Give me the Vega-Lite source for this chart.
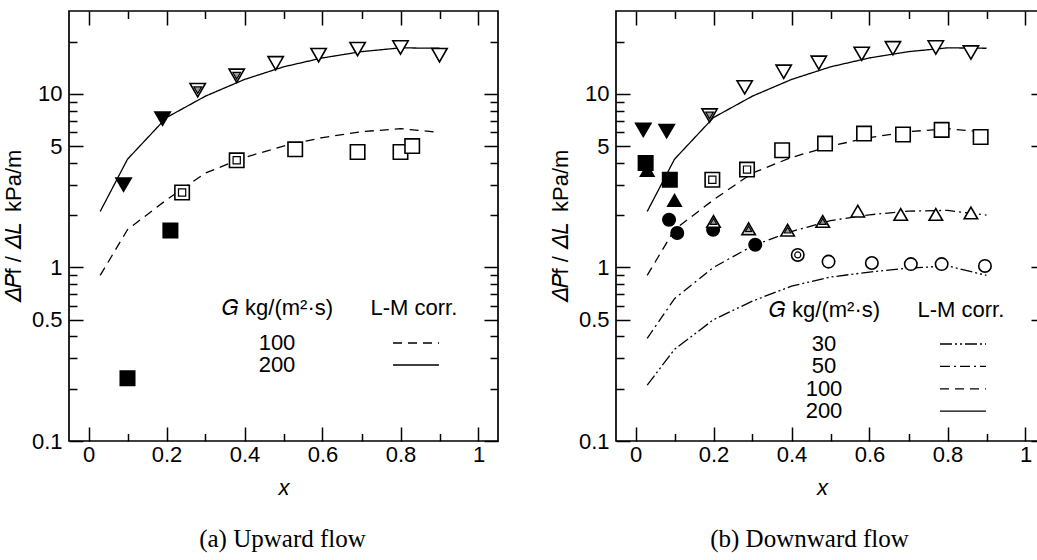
{
  "$schema": "https://vega.github.io/schema/vega-lite/v6.json",
  "background": "white",
  "autosize": {"type": "pad"},
  "padding": {"left": 1, "top": 9, "right": -10, "bottom": 0},
  "config": {
    "view": {"stroke": "black", "strokeWidth": 1.7},
    "axis": {"domain": false, "grid": false, "tickColor": "black", "tickWidth": 1.5, "labelFont": "Liberation Sans", "labelFontSize": 22, "labelColor": "black", "titleFont": "Liberation Sans", "titleFontSize": 22, "titleFontWeight": "normal", "titleColor": "black", "labelFlush": false, "labelOverlap": false, "labelBound": false},
    "legend": {"titleFont": "Liberation Sans", "labelFont": "Liberation Sans"}
  },
  "datasets": {
    "lm": [
      {"G": 200, "x": 0.03, "y": 2.1}, {"G": 200, "x": 0.1, "y": 4.2}, {"G": 200, "x": 0.2, "y": 7.3}, {"G": 200, "x": 0.3, "y": 9.7}, {"G": 200, "x": 0.4, "y": 12.1}, {"G": 200, "x": 0.5, "y": 14.3}, {"G": 200, "x": 0.6, "y": 16.1}, {"G": 200, "x": 0.7, "y": 17.5}, {"G": 200, "x": 0.8, "y": 18.4}, {"G": 200, "x": 0.9, "y": 18.3},
      {"G": 100, "x": 0.03, "y": 0.9}, {"G": 100, "x": 0.1, "y": 1.65}, {"G": 100, "x": 0.2, "y": 2.45}, {"G": 100, "x": 0.3, "y": 3.5}, {"G": 100, "x": 0.4, "y": 4.3}, {"G": 100, "x": 0.5, "y": 5.0}, {"G": 100, "x": 0.6, "y": 5.6}, {"G": 100, "x": 0.7, "y": 6.05}, {"G": 100, "x": 0.8, "y": 6.3}, {"G": 100, "x": 0.9, "y": 6.0},
      {"G": 50, "x": 0.03, "y": 0.39}, {"G": 50, "x": 0.1, "y": 0.66}, {"G": 50, "x": 0.2, "y": 1.0}, {"G": 50, "x": 0.3, "y": 1.33}, {"G": 50, "x": 0.4, "y": 1.61}, {"G": 50, "x": 0.5, "y": 1.86}, {"G": 50, "x": 0.6, "y": 2.01}, {"G": 50, "x": 0.7, "y": 2.11}, {"G": 50, "x": 0.8, "y": 2.13}, {"G": 50, "x": 0.9, "y": 2.0},
      {"G": 30, "x": 0.03, "y": 0.21}, {"G": 30, "x": 0.1, "y": 0.337}, {"G": 30, "x": 0.2, "y": 0.5}, {"G": 30, "x": 0.3, "y": 0.64}, {"G": 30, "x": 0.4, "y": 0.78}, {"G": 30, "x": 0.5, "y": 0.88}, {"G": 30, "x": 0.6, "y": 0.94}, {"G": 30, "x": 0.7, "y": 0.99}, {"G": 30, "x": 0.8, "y": 1.02}, {"G": 30, "x": 0.9, "y": 0.9}
    ],
    "pa": [
      {"g": 100, "t": "f", "x": 0.10, "y": 0.23}, {"g": 100, "t": "f", "x": 0.21, "y": 1.63}, {"g": 100, "t": "d", "x": 0.24, "y": 2.7}, {"g": 100, "t": "d", "x": 0.38, "y": 4.14}, {"g": 100, "t": "o", "x": 0.53, "y": 4.79}, {"g": 100, "t": "o", "x": 0.69, "y": 4.62}, {"g": 100, "t": "o", "x": 0.80, "y": 4.62}, {"g": 100, "t": "o", "x": 0.83, "y": 5.0},
      {"g": 200, "t": "f", "x": 0.09, "y": 3.0}, {"g": 200, "t": "f", "x": 0.19, "y": 7.2}, {"g": 200, "t": "d", "x": 0.28, "y": 10.5}, {"g": 200, "t": "d", "x": 0.38, "y": 12.7}, {"g": 200, "t": "o", "x": 0.48, "y": 15.0}, {"g": 200, "t": "o", "x": 0.59, "y": 16.7}, {"g": 200, "t": "o", "x": 0.69, "y": 18.1}, {"g": 200, "t": "o", "x": 0.80, "y": 18.5}, {"g": 200, "t": "o", "x": 0.90, "y": 16.7}
    ],
    "pb": [
      {"g": 30, "t": "f", "x": 0.086, "y": 1.88}, {"g": 30, "t": "f", "x": 0.107, "y": 1.58}, {"g": 30, "t": "f", "x": 0.199, "y": 1.65}, {"g": 30, "t": "f", "x": 0.307, "y": 1.35}, {"g": 30, "t": "d", "x": 0.416, "y": 1.18}, {"g": 30, "t": "o", "x": 0.495, "y": 1.08}, {"g": 30, "t": "o", "x": 0.606, "y": 1.06}, {"g": 30, "t": "o", "x": 0.706, "y": 1.045}, {"g": 30, "t": "o", "x": 0.785, "y": 1.045}, {"g": 30, "t": "o", "x": 0.896, "y": 1.02},
      {"g": 50, "t": "f", "x": 0.03, "y": 3.62}, {"g": 50, "t": "f", "x": 0.10, "y": 2.43}, {"g": 50, "t": "d", "x": 0.20, "y": 1.84}, {"g": 50, "t": "d", "x": 0.29, "y": 1.67}, {"g": 50, "t": "d", "x": 0.39, "y": 1.64}, {"g": 50, "t": "d", "x": 0.48, "y": 1.84}, {"g": 50, "t": "o", "x": 0.57, "y": 2.11}, {"g": 50, "t": "o", "x": 0.68, "y": 2.02}, {"g": 50, "t": "o", "x": 0.77, "y": 2.02}, {"g": 50, "t": "o", "x": 0.86, "y": 2.06},
      {"g": 100, "t": "f", "x": 0.026, "y": 4.0}, {"g": 100, "t": "f", "x": 0.088, "y": 3.2}, {"g": 100, "t": "d", "x": 0.197, "y": 3.2}, {"g": 100, "t": "d", "x": 0.286, "y": 3.66}, {"g": 100, "t": "o", "x": 0.376, "y": 4.73}, {"g": 100, "t": "o", "x": 0.486, "y": 5.17}, {"g": 100, "t": "o", "x": 0.586, "y": 5.9}, {"g": 100, "t": "o", "x": 0.686, "y": 5.83}, {"g": 100, "t": "o", "x": 0.785, "y": 6.2}, {"g": 100, "t": "o", "x": 0.885, "y": 5.64},
      {"g": 200, "t": "f", "x": 0.02, "y": 6.2}, {"g": 200, "t": "f", "x": 0.08, "y": 6.1}, {"g": 200, "t": "d", "x": 0.19, "y": 7.5}, {"g": 200, "t": "o", "x": 0.28, "y": 10.9}, {"g": 200, "t": "o", "x": 0.38, "y": 13.4}, {"g": 200, "t": "o", "x": 0.47, "y": 15.1}, {"g": 200, "t": "o", "x": 0.58, "y": 17.0}, {"g": 200, "t": "o", "x": 0.66, "y": 18.3}, {"g": 200, "t": "o", "x": 0.77, "y": 18.5}, {"g": 200, "t": "o", "x": 0.86, "y": 17.3}
    ]
  },
  "hconcat": [
    {
      "width": 429, "height": 430,
      "title": {"text": "(a) Upward flow", "orient": "bottom", "frame": "group", "anchor": "middle", "font": "Liberation Serif", "fontSize": 25, "fontWeight": "normal", "color": "black", "offset": 28, "dx": -1},
      "layer": [
        {
          "data": {"name": "lm"},
          "transform": [{"filter": "datum.G >= 100"}],
          "mark": {"type": "line", "color": "black", "strokeWidth": 1.3},
          "encoding": {
            "x": {"field": "x", "type": "quantitative", "scale": {"domain": [-0.05, 1.05], "nice": false, "zero": false},
              "axis": {"orient": "bottom", "values": [0, 0.1, 0.2, 0.3, 0.4, 0.5, 0.6, 0.7, 0.8, 0.9, 1], "labelExpr": "indexof([0,0.2,0.4,0.6,0.8,1], datum.value) >= 0 ? format(datum.value, '~g') : ''", "tickSize": {"condition": {"test": "indexof([0,0.2,0.4,0.6,0.8,1], datum.value) >= 0", "value": -14}, "value": -7.5}, "labelPadding": 17, "title": "x", "titleFontStyle": "italic", "titlePadding": 6}},
            "y": {"field": "y", "type": "quantitative", "scale": {"type": "log", "domain": [0.1, 30], "nice": false},
              "axis": {"orient": "left", "values": [0.1, 0.2, 0.3, 0.4, 0.5, 0.6, 0.7, 0.8, 0.9, 1, 2, 3, 4, 5, 6, 7, 8, 9, 10, 20], "labelExpr": "datum.value == 0.1 ? '0.1' : datum.value == 0.5 ? '0.5' : datum.value == 1 ? '1' : datum.value == 5 ? '5' : datum.value == 10 ? '10' : ''", "tickSize": {"condition": {"test": "indexof([0.1,0.5,1,5,10], datum.value) >= 0", "value": -14}, "value": -8}, "labelPadding": 21, "title": "𝛥𝑃f / 𝛥𝐿\u2002kPa/m", "titlePadding": 6}},
            "strokeDash": {"field": "G", "type": "nominal", "scale": {"domain": [100, 200], "range": [[9, 6], [1, 0]]},
              "legend": {"orient": "none", "legendX": 153, "legendY": 287, "title": "𝐺 kg/(m²·s)\u2003\u2002\u2009L-M corr.", "titleLimit": 600, "titleFontSize": 22, "titleFontWeight": "normal", "titleColor": "black", "titlePadding": 12, "labelFontSize": 22, "labelColor": "black", "labelAlign": "center", "labelOffset": -150, "symbolType": "M-4.6,0H4.6", "symbolSize": 100, "symbolStrokeWidth": 1.3, "symbolStrokeColor": "black", "symbolFillColor": "transparent", "symbolOffset": 183, "rowPadding": 0, "padding": 0}}
          }
        },
        {
          "data": {"name": "pa"},
          "mark": {"type": "point", "filled": true, "stroke": "black", "strokeWidth": 1.6, "opacity": 1},
          "encoding": {
            "x": {"field": "x", "type": "quantitative", "scale": {"domain": [-0.05, 1.05], "nice": false, "zero": false}, "axis": null},
            "y": {"field": "y", "type": "quantitative", "scale": {"type": "log", "domain": [0.1, 30], "nice": false}, "axis": null},
            "shape": {"field": "g", "type": "nominal", "scale": {"domain": [200, 100, 50, 30], "range": ["triangle-down", "square", "triangle-up", "circle"]}, "legend": null},
            "size": {"field": "g", "type": "nominal", "scale": {"domain": [200, 100, 50, 30], "range": [235, 155, 235, 150]}, "legend": null},
            "fill": {"field": "t", "type": "nominal", "scale": {"domain": ["f", "d", "o"], "range": ["black", "white", "white"]}, "legend": null}
          }
        },
        {
          "data": {"name": "pa"},
          "transform": [{"filter": "datum.t == 'd'"}],
          "mark": {"type": "point", "filled": true, "stroke": "black", "strokeWidth": 1.2, "opacity": 1},
          "encoding": {
            "x": {"field": "x", "type": "quantitative", "scale": {"domain": [-0.05, 1.05], "nice": false, "zero": false}, "axis": null},
            "y": {"field": "y", "type": "quantitative", "scale": {"type": "log", "domain": [0.1, 30], "nice": false}, "axis": null},
            "shape": {"field": "g", "type": "nominal", "scale": {"domain": [200, 100, 50, 30], "range": ["triangle-down", "square", "triangle-up", "circle"]}, "legend": null},
            "size": {"field": "g", "type": "nominal", "scale": {"domain": [200, 100, 50, 30], "range": [60, 36, 60, 36]}, "legend": null},
            "fill": {"field": "g", "type": "nominal", "scale": {"domain": [200, 100, 50, 30], "range": ["#999999", "white", "#999999", "white"]}, "legend": null}
          }
        },
        {
          "data": {"name": "pa"},
          "mark": {"type": "point", "opacity": 0},
          "encoding": {
            "x": {"field": "x", "type": "quantitative", "scale": {"domain": [-0.05, 1.05], "nice": false, "zero": false},
              "axis": {"orient": "top", "values": [0, 0.1, 0.2, 0.3, 0.4, 0.5, 0.6, 0.7, 0.8, 0.9, 1], "labels": false, "title": null, "tickSize": {"condition": {"test": "indexof([0,0.2,0.4,0.6,0.8,1], datum.value) >= 0", "value": -14}, "value": -7.5}}},
            "y": {"field": "y", "type": "quantitative", "scale": {"type": "log", "domain": [0.1, 30], "nice": false},
              "axis": {"orient": "right", "values": [0.1, 0.2, 0.3, 0.4, 0.5, 0.6, 0.7, 0.8, 0.9, 1, 2, 3, 4, 5, 6, 7, 8, 9, 10, 20], "labels": false, "title": null, "tickSize": {"condition": {"test": "indexof([0.1,0.5,1,5,10], datum.value) >= 0", "value": -14}, "value": -8}}}
          }
        }
      ],
      "resolve": {"axis": {"x": "independent", "y": "independent"}, "scale": {"size": "independent", "fill": "independent"}}
    },
    {
      "width": 429, "height": 430,
      "title": {"text": "(b) Downward flow", "orient": "bottom", "frame": "group", "anchor": "middle", "font": "Liberation Serif", "fontSize": 25, "fontWeight": "normal", "color": "black", "offset": 28, "dx": -21},
      "layer": [
        {
          "data": {"name": "lm"},
          "mark": {"type": "line", "color": "black", "strokeWidth": 1.3},
          "encoding": {
            "x": {"field": "x", "type": "quantitative", "scale": {"domain": [-0.05, 1.05], "nice": false, "zero": false},
              "axis": {"orient": "bottom", "values": [0, 0.1, 0.2, 0.3, 0.4, 0.5, 0.6, 0.7, 0.8, 0.9, 1], "labelExpr": "indexof([0,0.2,0.4,0.6,0.8,1], datum.value) >= 0 ? format(datum.value, '~g') : ''", "tickSize": {"condition": {"test": "indexof([0,0.2,0.4,0.6,0.8,1], datum.value) >= 0", "value": -14}, "value": -7.5}, "labelPadding": 17, "title": "x", "titleFontStyle": "italic", "titlePadding": 6, "titleX": 206}},
            "y": {"field": "y", "type": "quantitative", "scale": {"type": "log", "domain": [0.1, 30], "nice": false},
              "axis": {"orient": "left", "values": [0.1, 0.2, 0.3, 0.4, 0.5, 0.6, 0.7, 0.8, 0.9, 1, 2, 3, 4, 5, 6, 7, 8, 9, 10, 20], "labelExpr": "datum.value == 0.1 ? '0.1' : datum.value == 0.5 ? '0.5' : datum.value == 1 ? '1' : datum.value == 5 ? '5' : datum.value == 10 ? '10' : ''", "tickSize": {"condition": {"test": "indexof([0.1,0.5,1,5,10], datum.value) >= 0", "value": -14}, "value": -8}, "labelPadding": 21, "title": "𝛥𝑃f / 𝛥𝐿\u2002kPa/m", "titlePadding": 6}},
            "strokeDash": {"field": "G", "type": "nominal", "scale": {"domain": [30, 50, 100, 200], "range": [[12, 3, 2, 3, 2, 3], [10, 4, 2, 4], [9, 6], [1, 0]]},
              "legend": {"orient": "none", "legendX": 153, "legendY": 289, "title": "𝐺 kg/(m²·s)\u2003\u2002\u2009L-M corr.", "titleLimit": 600, "titleFontSize": 22, "titleFontWeight": "normal", "titleColor": "black", "titlePadding": 11, "labelFontSize": 22, "labelColor": "black", "labelAlign": "center", "labelOffset": -150, "symbolType": "M-4.6,0H4.6", "symbolSize": 100, "symbolStrokeWidth": 1.3, "symbolStrokeColor": "black", "symbolFillColor": "transparent", "symbolOffset": 183, "rowPadding": 0.4, "padding": 0}}
          }
        },
        {
          "data": {"name": "pb"},
          "mark": {"type": "point", "filled": true, "stroke": "black", "strokeWidth": 1.6, "opacity": 1},
          "encoding": {
            "x": {"field": "x", "type": "quantitative", "scale": {"domain": [-0.05, 1.05], "nice": false, "zero": false}, "axis": null},
            "y": {"field": "y", "type": "quantitative", "scale": {"type": "log", "domain": [0.1, 30], "nice": false}, "axis": null},
            "shape": {"field": "g", "type": "nominal", "scale": {"domain": [200, 100, 50, 30], "range": ["triangle-down", "square", "triangle-up", "circle"]}, "legend": null},
            "size": {"field": "g", "type": "nominal", "scale": {"domain": [200, 100, 50, 30], "range": [235, 155, 235, 150]}, "legend": null},
            "fill": {"field": "t", "type": "nominal", "scale": {"domain": ["f", "d", "o"], "range": ["black", "white", "white"]}, "legend": null}
          }
        },
        {
          "data": {"name": "pb"},
          "transform": [{"filter": "datum.t == 'd'"}],
          "mark": {"type": "point", "filled": true, "stroke": "black", "strokeWidth": 1.2, "opacity": 1},
          "encoding": {
            "x": {"field": "x", "type": "quantitative", "scale": {"domain": [-0.05, 1.05], "nice": false, "zero": false}, "axis": null},
            "y": {"field": "y", "type": "quantitative", "scale": {"type": "log", "domain": [0.1, 30], "nice": false}, "axis": null},
            "shape": {"field": "g", "type": "nominal", "scale": {"domain": [200, 100, 50, 30], "range": ["triangle-down", "square", "triangle-up", "circle"]}, "legend": null},
            "size": {"field": "g", "type": "nominal", "scale": {"domain": [200, 100, 50, 30], "range": [60, 36, 60, 36]}, "legend": null},
            "fill": {"field": "g", "type": "nominal", "scale": {"domain": [200, 100, 50, 30], "range": ["#999999", "white", "#999999", "white"]}, "legend": null}
          }
        },
        {
          "data": {"name": "pb"},
          "mark": {"type": "point", "opacity": 0},
          "encoding": {
            "x": {"field": "x", "type": "quantitative", "scale": {"domain": [-0.05, 1.05], "nice": false, "zero": false},
              "axis": {"orient": "top", "values": [0, 0.1, 0.2, 0.3, 0.4, 0.5, 0.6, 0.7, 0.8, 0.9, 1], "labels": false, "title": null, "tickSize": {"condition": {"test": "indexof([0,0.2,0.4,0.6,0.8,1], datum.value) >= 0", "value": -14}, "value": -7.5}}},
            "y": {"field": "y", "type": "quantitative", "scale": {"type": "log", "domain": [0.1, 30], "nice": false},
              "axis": {"orient": "right", "values": [0.1, 0.2, 0.3, 0.4, 0.5, 0.6, 0.7, 0.8, 0.9, 1, 2, 3, 4, 5, 6, 7, 8, 9, 10, 20], "labels": false, "title": null, "tickSize": {"condition": {"test": "indexof([0.1,0.5,1,5,10], datum.value) >= 0", "value": -14}, "value": -8}}}
          }
        }
      ],
      "resolve": {"axis": {"x": "independent", "y": "independent"}, "scale": {"size": "independent", "fill": "independent"}}
    }
  ],
  "resolve": {"scale": {"strokeDash": "independent", "shape": "independent", "size": "independent", "fill": "independent"}, "legend": {"strokeDash": "independent"}},
  "bounds": "flush",
  "spacing": 118
}
